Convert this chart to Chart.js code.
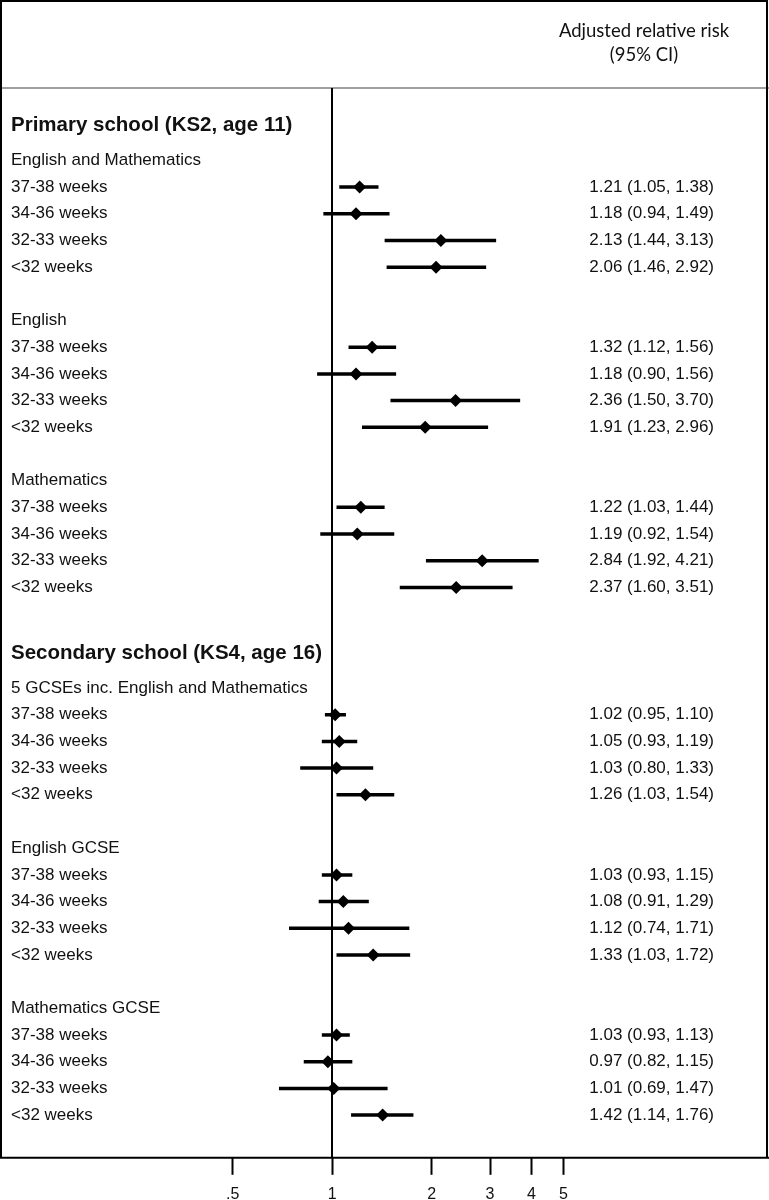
<!DOCTYPE html>
<html>
<head>
<meta charset="utf-8">
<script src="https://cdn.jsdelivr.net/npm/chart.js@4"></script>
<style>
    html, body { margin: 0; padding: 0; background: #fff; overflow: hidden; }
    canvas { display: block; }
</style>
</head>
<body>
<canvas id="forest" width="769" height="1200"></canvas>
<script>
// Data
const stages = ['Primary school (KS2, age 11)', 'Secondary school (KS4, age 16)'];
const groups = [
    ['English and Mathematics', 'English', 'Mathematics'],
    ['5 GCSEs inc. English and Mathematics', 'English GCSE', 'Mathematics GCSE']
];
const categories = ['37-38 weeks', '34-36 weeks', '32-33 weeks', '<32 weeks'];

const rr    = [1.21, 1.18, 2.13, 2.06,  1.32, 1.18, 2.36, 1.91,  1.22, 1.19, 2.84, 2.37,
               1.02, 1.05, 1.03, 1.26,  1.03, 1.08, 1.12, 1.33,  1.03, 0.97, 1.01, 1.42];
const lower = [1.05, 0.94, 1.44, 1.46,  1.12, 0.90, 1.50, 1.23,  1.03, 0.92, 1.92, 1.60,
               0.95, 0.93, 0.80, 1.03,  0.93, 0.91, 0.74, 1.03,  0.93, 0.82, 0.69, 1.14];
const upper = [1.38, 1.49, 3.13, 2.92,  1.56, 1.56, 3.70, 2.96,  1.44, 1.54, 4.21, 3.51,
               1.10, 1.19, 1.33, 1.54,  1.15, 1.29, 1.71, 1.72,  1.13, 1.15, 1.47, 1.76];

const tickValues = [0.5, 1, 2, 3, 4, 5];
const tickLabels = ['.5', '1', '2', '3', '4', '5'];

// Row layout (in row units, one unit per text line)
const textRows = [];   // {pos, text, bold}
const rowPos = [];     // position of each estimate row
let pos = -2.3;
stages.forEach((stage, s) => {
    textRows.push({ pos, text: stage, bold: true });
    pos += 1.3;
    groups[s].forEach(g => {
        textRows.push({ pos, text: g, bold: false });
        categories.forEach((c, k) => {
            textRows.push({ pos: pos + k + 1, text: c, bold: false });
            rowPos.push(pos + k + 1);
        });
        pos += 6;
    });
    pos += 0.47;
});

const fmt = v => v.toFixed(2);
const ciText = rr.map((v, i) => `${fmt(v)} (${fmt(lower[i])}, ${fmt(upper[i])})`);

const datasets = [];
rr.forEach((v, i) => {
    datasets.push({
        type: 'line',
        data: [{ x: lower[i], y: rowPos[i] }, { x: upper[i], y: rowPos[i] }],
        borderColor: '#000',
        borderWidth: 3.5,
        pointRadius: 0,
        borderCapStyle: 'butt'
    });
});
datasets.push({
    type: 'scatter',
    data: rr.map((v, i) => ({ x: v, y: rowPos[i] })),
    pointStyle: 'rectRot',
    pointRadius: 6.5,
    backgroundColor: '#000',
    borderColor: '#000',
    borderWidth: 0
});

const forestText = {
    id: 'forestText',
    beforeDatasetsDraw(chart) {
        const { ctx, chartArea: a, scales: { x } } = chart;
        ctx.save();
        // header separator
        ctx.strokeStyle = '#a0a0a0';
        ctx.lineWidth = 2;
        ctx.beginPath();
        ctx.moveTo(0, a.top);
        ctx.lineTo(769, a.top);
        ctx.stroke();
        // null line at 1
        const x1 = Math.round(x.getPixelForValue(1));
        ctx.strokeStyle = '#000';
        ctx.lineWidth = 2;
        ctx.beginPath();
        ctx.moveTo(x1, a.top);
        ctx.lineTo(x1, a.bottom);
        ctx.stroke();
        // frame
        ctx.beginPath();
        ctx.moveTo(1, a.bottom);
        ctx.lineTo(1, 1);
        ctx.lineTo(767, 1);
        ctx.lineTo(767, a.bottom);
        ctx.moveTo(0, a.bottom);
        ctx.lineTo(769, a.bottom);
        ctx.stroke();
        ctx.restore();
    },
    afterDraw(chart) {
        const { ctx, scales: { y } } = chart;
        ctx.save();
        ctx.fillStyle = '#111';
        ctx.textBaseline = 'middle';
        textRows.forEach(r => {
            ctx.font = r.bold ? 'bold 20.5px "Liberation Sans", Arial, sans-serif'
                              : '17px "Liberation Sans", Arial, sans-serif';
            ctx.textAlign = 'left';
            ctx.fillText(r.text, 11, y.getPixelForValue(r.pos));
        });
        ctx.font = '17px "Liberation Sans", Arial, sans-serif';
        ctx.textAlign = 'right';
        ciText.forEach((t, i) => ctx.fillText(t, 714, y.getPixelForValue(rowPos[i])));
        // header
        ctx.font = '18.5px Lato, "Open Sans", sans-serif';
        ctx.textAlign = 'center';
        ctx.fillText('Adjusted relative risk', 644, 31);
        ctx.fillText('(95% CI)', 644, 55);
        ctx.restore();
    }
};

new Chart(document.getElementById('forest'), {
    type: 'scatter',
    data: { datasets },
    options: {
        responsive: false,
        animation: false,
        events: [],
        layout: { padding: { top: 88, left: 1, right: 2, bottom: -14 } },
        plugins: { legend: { display: false }, tooltip: { enabled: false } },
        scales: {
            x: {
                type: 'logarithmic',
                position: 'bottom',
                min: 0.1035,
                max: 20,
                bounds: 'data',
                afterBuildTicks: (s) => { s.ticks = tickValues.map(v => ({ value: v })); },
                ticks: {
                    autoSkip: false,
                    maxRotation: 0,
                    padding: 10,
                    color: '#111',
                    font: { family: '"Liberation Sans", Arial, sans-serif', size: 16 },
                    callback: (v) => tickLabels[tickValues.indexOf(v)]
                },
                grid: {
                    drawOnChartArea: false,
                    drawTicks: true,
                    tickLength: 17,
                    tickWidth: 2,
                    tickColor: '#000'
                },
                border: { display: false }
            },
            y: {
                type: 'linear',
                display: false,
                reverse: true,
                min: -3.712,
                max: 36.37
            }
        }
    },
    plugins: [forestText]
});
</script>
</body>
</html>
